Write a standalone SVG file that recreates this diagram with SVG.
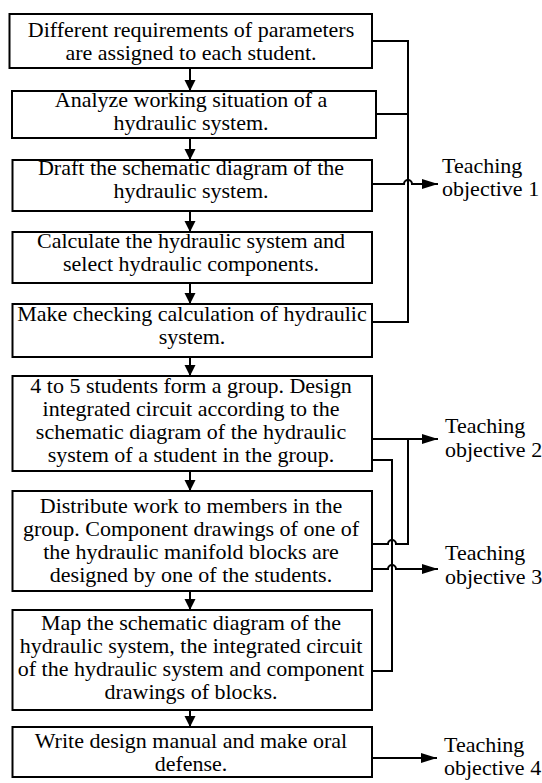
<svg xmlns="http://www.w3.org/2000/svg" width="542" height="783" viewBox="0 0 542 783">
<style>
.box{fill:#fff;stroke:#000;stroke-width:2}
.t{font-family:"Liberation Serif","Times New Roman",serif;font-size:22px;fill:#000;text-anchor:middle}
.l{font-family:"Liberation Serif","Times New Roman",serif;font-size:22px;fill:#000}
.c{fill:none;stroke:#000;stroke-width:2}
</style>
<defs>
<marker id="ah" markerUnits="userSpaceOnUse" markerWidth="17" markerHeight="11" refX="16" refY="5" orient="auto"><path d="M0,0 L16,5 L0,10 z" fill="#000"/></marker>
<marker id="ad" markerUnits="userSpaceOnUse" markerWidth="12" markerHeight="12" refX="11" refY="5.5" orient="auto"><path d="M0,0 L11,5.5 L0,11 z" fill="#000"/></marker>
</defs>
<rect width="542" height="783" fill="#fff"/>
<g id="connectors">
<path class="c" d="M190,68 V91" marker-end="url(#ad)"/>
<path class="c" d="M190,138 V160" marker-end="url(#ad)"/>
<path class="c" d="M190,211 V232" marker-end="url(#ad)"/>
<path class="c" d="M190,283 V304" marker-end="url(#ad)"/>
<path class="c" d="M190,357 V376" marker-end="url(#ad)"/>
<path class="c" d="M190,471 V491" marker-end="url(#ad)"/>
<path class="c" d="M190,591 V610" marker-end="url(#ad)"/>
<path class="c" d="M190,710 V727" marker-end="url(#ad)"/>
<path class="c" d="M372,41 H408 V322 H372 M376,114 H408"/>
<path class="c" d="M372,184 H404 a4,4 0 0 1 8,0 H438" marker-end="url(#ah)"/>
<path class="c" d="M372,439 H438" marker-end="url(#ah)"/>
<path class="c" d="M408,439 V544 H396 a4,4 0 0 0 -8,0 H372"/>
<path class="c" d="M372,460 H392 V671 H372"/>
<path class="c" d="M372,569 H388 a4,4 0 0 1 8,0 H438" marker-end="url(#ah)"/>
<path class="c" d="M372,758 H437" marker-end="url(#ah)"/>
</g>
<g id="n1"><rect class="box" x="9.5" y="14" width="362.5" height="54"/><text class="t" x="191" y="37">Different requirements of parameters</text><text class="t" x="191" y="60">are assigned to each student.</text></g>
<g id="n2"><rect class="box" x="12" y="91" width="364" height="47"/><text class="t" x="191" y="107">Analyze working situation of a</text><text class="t" x="191" y="130">hydraulic system.</text></g>
<g id="n3"><rect class="box" x="12.5" y="160" width="359.5" height="51"/><text class="t" x="191" y="175">Draft the schematic diagram of the</text><text class="t" x="191" y="198">hydraulic system.</text></g>
<g id="n4"><rect class="box" x="12.5" y="232" width="359.5" height="51"/><text class="t" x="191" y="248">Calculate the hydraulic system and</text><text class="t" x="191" y="271">select hydraulic components.</text></g>
<g id="n5"><rect class="box" x="12.5" y="304" width="359.5" height="53"/><text class="t" x="192" y="321">Make checking calculation of hydraulic</text><text class="t" x="192" y="344">system.</text></g>
<g id="n6"><rect class="box" x="12.5" y="376" width="359.5" height="95"/><text class="t" x="191" y="393">4 to 5 students form a group. Design</text><text class="t" x="191" y="416">integrated circuit according to the</text><text class="t" x="191" y="439">schematic diagram of the hydraulic</text><text class="t" x="191" y="462">system of a student in the group.</text></g>
<g id="n7"><rect class="box" x="12.5" y="491" width="359.5" height="100"/><text class="t" x="191" y="513">Distribute work to members in the</text><text class="t" x="191" y="536">group. Component drawings of one of</text><text class="t" x="191" y="559">the hydraulic manifold blocks are</text><text class="t" x="191" y="582">designed by one of the students.</text></g>
<g id="n8"><rect class="box" x="12.5" y="610" width="359.5" height="100"/><text class="t" x="191" y="630">Map the schematic diagram of the</text><text class="t" x="191" y="653">hydraulic system, the integrated circuit</text><text class="t" x="191" y="676">of the hydraulic system and component</text><text class="t" x="191" y="699">drawings of blocks.</text></g>
<g id="n9"><rect class="box" x="12.5" y="727" width="359.5" height="50"/><text class="t" x="191" y="748">Write design manual and make oral</text><text class="t" x="191" y="771">defense.</text></g>
<g id="o1"><text class="l" x="442" y="173">Teaching</text><text class="l" x="442" y="196">objective 1</text></g>
<g id="o2"><text class="l" x="445" y="433">Teaching</text><text class="l" x="445" y="457">objective 2</text></g>
<g id="o3"><text class="l" x="445" y="560">Teaching</text><text class="l" x="445" y="584">objective 3</text></g>
<g id="o4"><text class="l" x="444" y="752">Teaching</text><text class="l" x="444" y="775">objective 4</text></g>
</svg>
